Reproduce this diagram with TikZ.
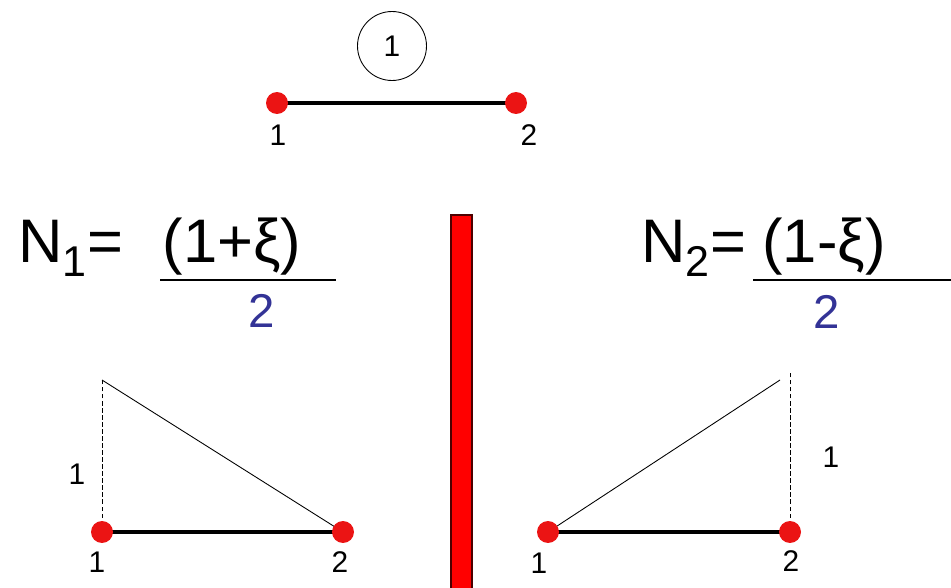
\documentclass[tikz,border=0pt]{standalone}
\usepackage{fontspec}
\setmainfont{Liberation Sans}
\usepackage{tikz}
\usetikzlibrary{
	positioning,
	calc
}
\definecolor{azulden}{RGB}{51,51,150}
\definecolor{vermelho}{RGB}{235,20,20}

\begin{document}
\begin{tikzpicture}[
			x=0.02cm, y=-0.02cm,
			font=\fontsize{17}{19}\selectfont,
			no/.style={circle, fill=vermelho, inner sep=0pt, minimum size=0.44cm},
			rot/.style={inner sep=1pt},
			barra/.style={line width=2.8pt},
			fina/.style={line width=0.5pt},
			trac/.style={line width=0.5pt, dash pattern=on 2.5pt off 1.5pt},
			grande/.style={font=\fontsize{35}{38}\selectfont, inner sep=0pt},
			denom/.style={font=\fontsize{27}{30}\selectfont, text=azulden, inner sep=0pt}
		]
		\useasboundingbox (0,0) rectangle (951,588);

		% elemento de cima
		\node[circle, draw, fina, minimum size=1.38cm, inner sep=0pt] (el) at (392,46) {1};
		\coordinate (t1) at (277,103);
		\coordinate (t2) at (516,103);
		\draw[barra] (t1) -- (t2);
		\node[no] (nt1) at (t1) {};
		\node[no] (nt2) at (t2) {};
		\node[rot] (lt1) at (278,135) {1};
		\node[rot] (lt2) at (529,135) {2};

		% funcoes de forma
		\node[grande, anchor=base west] (n1) at (18,262) {N\textsubscript{1}=};
		\node[grande, anchor=base] (f1) at (232,262) {(1+ξ)};
		\coordinate (f1a) at (160,280);
		\coordinate (f1b) at (336,280);
		\draw[line width=0.8pt] (f1a) -- (f1b);
		\node[denom, anchor=base] (d1) at (262,327) {2};

		\node[grande, anchor=base west] (n2) at (641,262) {N\textsubscript{2}=};
		\node[grande, anchor=base] (f2) at (824,262) {(1-ξ)};
		\coordinate (f2a) at (753,280);
		\coordinate (f2b) at (951,280);
		\draw[line width=0.8pt] (f2a) -- (f2b);
		\node[denom, anchor=base] (d2) at (827,328) {2};

		% separador
		\draw[fill=red, draw=black!70!red, line width=1pt] (451,215) rectangle (472,592);

		% N1
		\coordinate (a1) at (102,532);
		\coordinate (a2) at (343,532);
		\coordinate (atop) at (102,380);
		\draw[trac] (a1) -- (atop);
		\draw[fina] (atop) -- (a2);
		\draw[barra] (a1) -- (a2);
		\node[no] (na1) at (a1) {};
		\node[no] (na2) at (a2) {};
		\node[rot] (la1) at (97,562) {1};
		\node[rot] (la2) at (340,562) {2};
		\node[rot] (lah) at (77,474) {1};

		% N2
		\coordinate (b1) at (548,532);
		\coordinate (b2) at (790,532);
		\coordinate (btop) at (790,373);
		\coordinate (bfim) at (780,380);
		\draw[trac] (b2) -- (btop);
		\draw[fina] (b1) -- (bfim);
		\draw[barra] (b1) -- (b2);
		\node[no] (nb1) at (b1) {};
		\node[no] (nb2) at (b2) {};
		\node[rot] (lb1) at (539,563) {1};
		\node[rot] (lb2) at (791,561) {2};
		\node[rot] (lbh) at (831,457) {1};
	\end{tikzpicture}
\end{document}
